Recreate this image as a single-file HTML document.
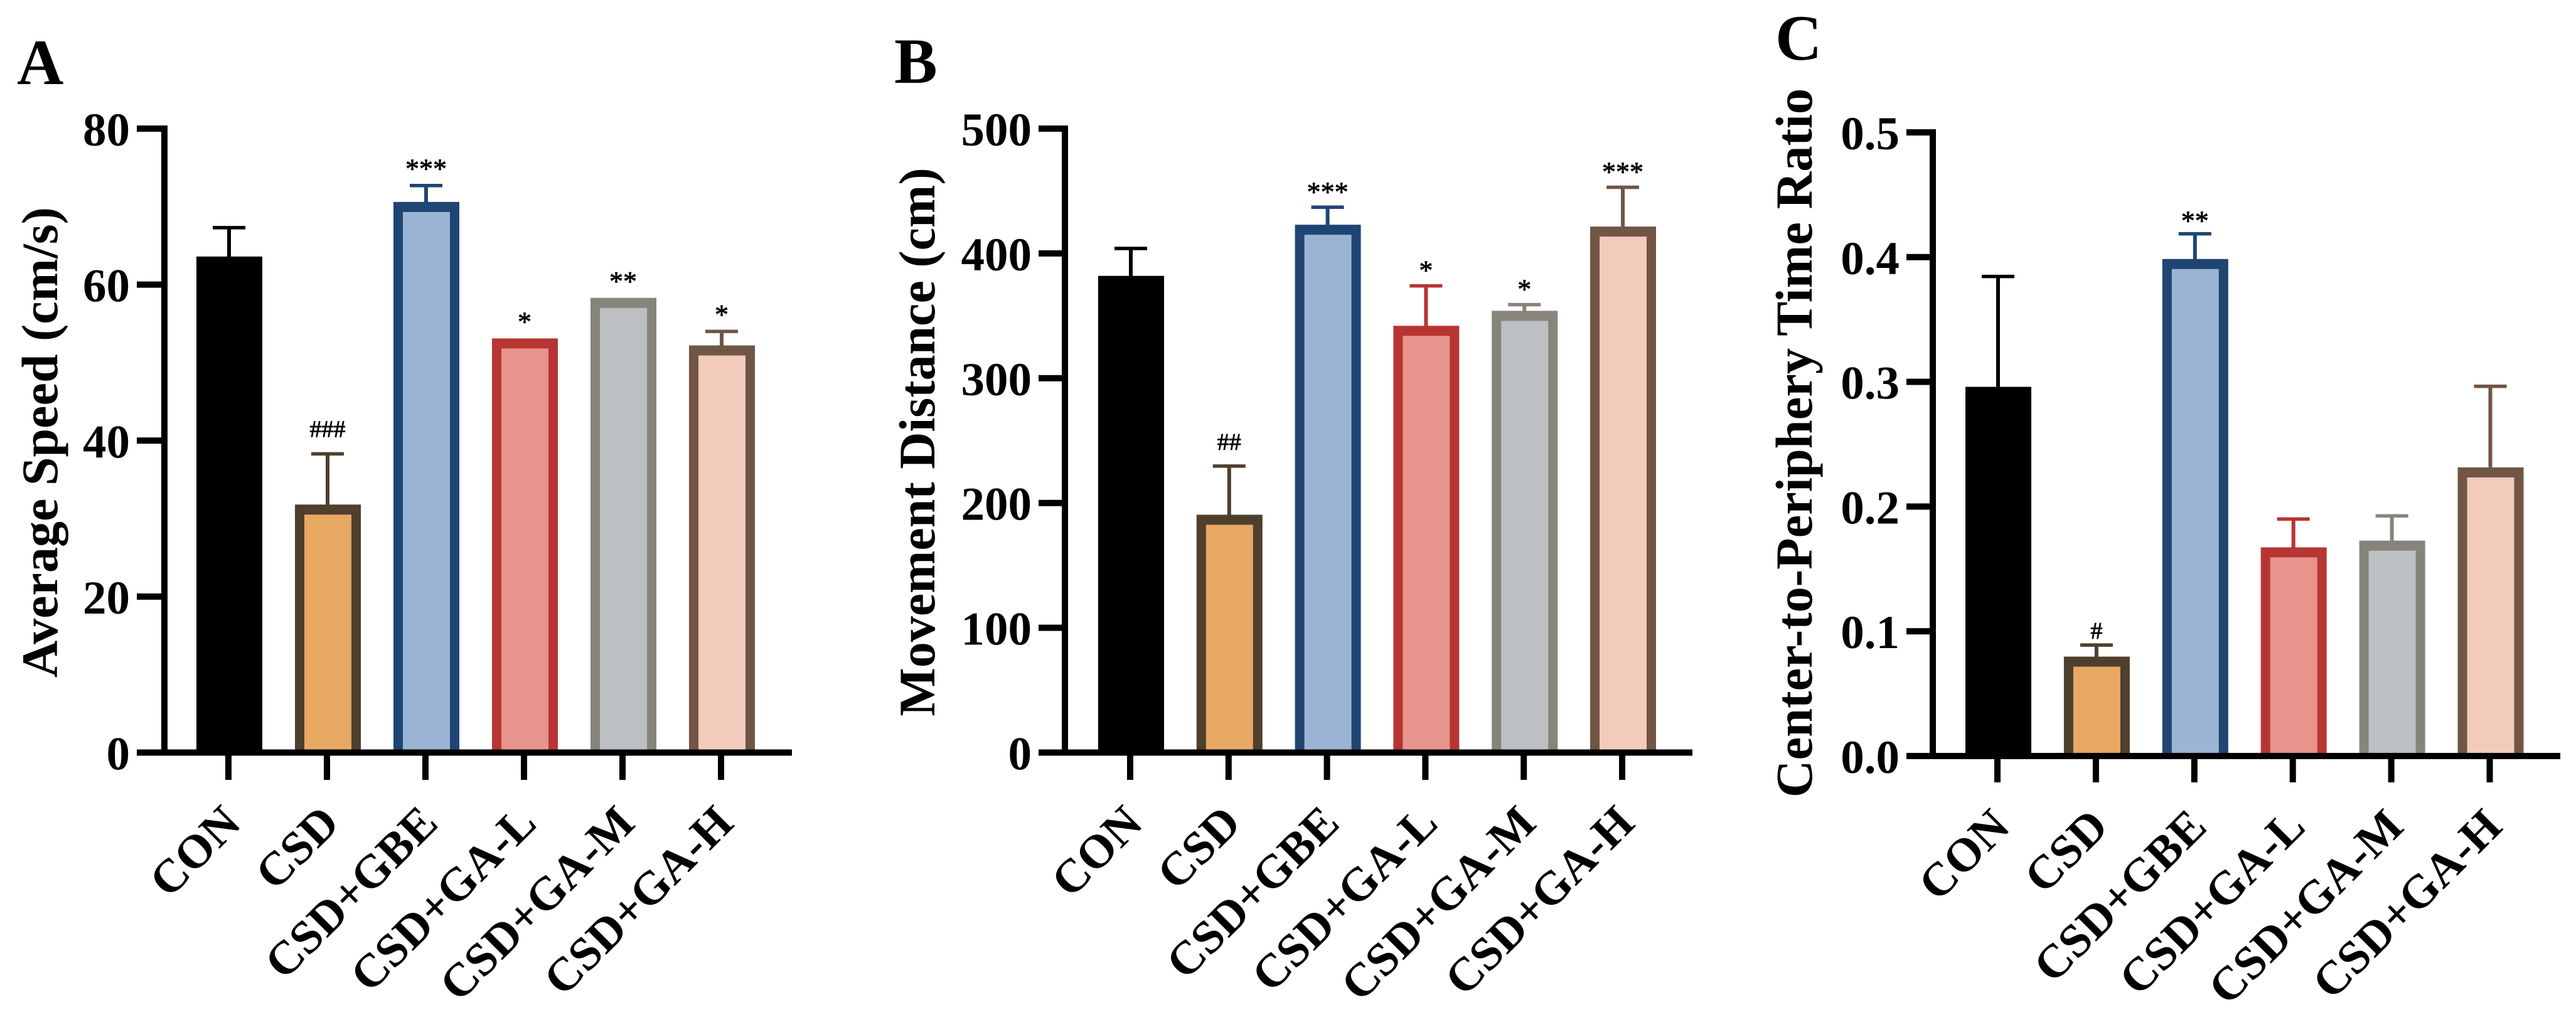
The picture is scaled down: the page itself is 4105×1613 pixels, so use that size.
<!DOCTYPE html>
<html lang="en">
<head>
<meta charset="utf-8">
<title>Behavioural bar charts</title>
<style>
html,body{margin:0;padding:0;background:#fff;width:4105px;height:1613px;overflow:hidden}
svg{display:block}
text{font-family:"Liberation Serif",serif}
</style>
</head>
<body>
<svg id="figure" xmlns="http://www.w3.org/2000/svg" width="4105" height="1613" viewBox="0 0 4105 1613"></svg>
<script>
const categories = ['CON', 'CSD', 'CSD+GBE', 'CSD+GA-L', 'CSD+GA-M', 'CSD+GA-H'];
const speedValues = [63.6, 31.8, 70.6, 53.1, 58.3, 52.2];
const speedErrorTops = [67.3, 38.3, 72.7, null, null, 54];
const speedMarks = ['', '###', '***', '*', '**', '*'];
const speedTicks = [0, 20, 40, 60, 80];
const speedTickLabels = ['0', '20', '40', '60', '80'];
const distanceValues = [382, 190.6, 423, 342, 354, 421.5];
const distanceErrorTops = [404, 229.6, 437, 374, 359, 453];
const distanceMarks = ['', '##', '***', '*', '*', '***'];
const distanceTicks = [0, 100, 200, 300, 400, 500];
const distanceTickLabels = ['0', '100', '200', '300', '400', '500'];
const ratioValues = [0.296, 0.0797, 0.3985, 0.1673, 0.1727, 0.2314];
const ratioErrorTops = [0.3845, 0.089, 0.4187, 0.19, 0.1925, 0.2964];
const ratioMarks = ['', '#', '**', '', '', ''];
const ratioTicks = [0, 0.1, 0.2, 0.3, 0.4, 0.5];
const ratioTickLabels = ['0.0', '0.1', '0.2', '0.3', '0.4', '0.5'];

const fills = ['#000000', '#e6a862', '#9cb4d3', '#e6948c', '#bcc0c2', '#f2cbbd'];
const borders = ['#000000', '#4f3f2d', '#1f4573', '#b73532', '#86847b', '#715545'];

const svg = document.getElementById('figure');
const NS = 'http://www.w3.org/2000/svg';
function make(tag, attrs, parent, text) {
  const el = document.createElementNS(NS, tag);
  for (const k in attrs) el.setAttribute(k, attrs[k]);
  if (text !== undefined) el.textContent = text;
  parent.appendChild(el);
  return el;
}

function drawPanel(p) {
  const g = make('g', {}, svg);
  
  
  const yScale = v => p.yBase - (v - p.ticks[0]) / (p.ticks[p.ticks.length - 1] - p.ticks[0]) * (p.yBase - p.yTop);
  const xScale = i => p.xFirst + i * p.xStep;
  const barW = 105, bx = 15, by = 16;
  const axisBottom = p.yBase + 5;

  const letter = make('text', {x: p.letterX, y: p.letterY, 'font-size': 103, 'font-weight': 'bold', fill: '#000'}, g, p.letter);
  
  

  const title = make('text', {
    transform: 'translate(' + p.titleX + ',' + p.titleY + ') rotate(-90)',
    'text-anchor': 'middle', 'font-size': p.titleSize, 'font-weight': 'bold', fill: '#000'
  }, g, p.title);
  
  

  categories.forEach((cat, i) => {
    const cx = xScale(i);
    const top = yScale(p.values[i]);
    if (p.errors[i] !== null) {
      const errY = yScale(p.errors[i]);
      const stem = make('line', {x1: cx + 1, x2: cx + 1, y1: top + 2, y2: errY, stroke: borders[i], 'stroke-width': 6}, g);
      
      
      const cap = make('line', {x1: cx - 25, x2: cx + 27, y1: errY, y2: errY, stroke: borders[i], 'stroke-width': 5.5}, g);
      
      
    }
    const outer = make('rect', {x: cx - barW / 2 + p.barShift, y: top, width: barW, height: p.yBase - top, fill: borders[i]}, g);
    
    
    const inner = make('rect', {x: cx - barW / 2 + p.barShift + bx, y: top + by, width: barW - 2 * bx, height: Math.max(0, p.yBase - top - by), fill: fills[i]}, g);
    
    

    const mark = p.marks[i];
    if (mark) {
      const anchorY = p.errors[i] !== null ? yScale(p.errors[i]) : top;
      const isHash = mark[0] === '#';
      const my = isHash ? anchorY - p.hashGap + 13 : anchorY - p.starGap + 21;
      const sig = make('text', {x: cx + 1, y: my, 'text-anchor': 'middle', 'font-size': isHash ? 38 : 44, fill: '#000', stroke: '#000', 'stroke-width': 0.8}, g, mark);
      
      
    }

    const tick = make('rect', {x: cx - 5, y: axisBottom - 2, width: 10, height: p.xTickEnd - axisBottom + 2, fill: '#000'}, g);
    
    

    const label = make('text', {
      transform: 'translate(' + (cx + 23) + ',' + (p.yBase + 116) + ') rotate(-45)',
      'text-anchor': 'end', 'font-size': 75, 'font-weight': 'bold', fill: '#000'
    }, g, cat);
    
    
  });

  const yAxis = make('rect', {x: p.axisX - 5, y: yScale(p.ticks[p.ticks.length - 1]) - 5, width: 10, height: axisBottom - yScale(p.ticks[p.ticks.length - 1]) + 5, fill: '#000'}, g);
  
  
  const xAxis = make('rect', {x: p.tickLeft, y: p.yBase - 5, width: p.axisEnd - p.tickLeft, height: 10, fill: '#000'}, g);
  
  

  p.ticks.forEach((t, i) => {
    const y = yScale(t);
    const tk = make('rect', {x: p.tickLeft, y: y - 5, width: p.axisX - p.tickLeft, height: 10, fill: '#000'}, g);
    
    
    const lb = make('text', {x: p.tickLeft - 11, y: y + 27, 'text-anchor': 'end', 'font-size': 75, 'font-weight': 'bold', fill: '#000'}, g, p.tickLabels[i]);
    
    
  });
}

drawPanel({
  name: 'average-speed', letter: 'A', letterX: 27, letterY: 134,
  title: 'Average Speed (cm/s)', titleX: 91, titleY: 705, titleSize: 82,
  values: speedValues, errors: speedErrorTops, marks: speedMarks,
  ticks: speedTicks, tickLabels: speedTickLabels,
  yBase: 1199.5, yTop: 205, xFirst: 364, xStep: 157, barShift: 1.5,
  axisX: 262, tickLeft: 218, axisEnd: 1262, xTickEnd: 1243, hashGap: 40, starGap: 33
});
drawPanel({
  name: 'movement-distance', letter: 'B', letterX: 1425, letterY: 132,
  title: 'Movement Distance (cm)', titleX: 1489, titleY: 704.5, titleSize: 82,
  values: distanceValues, errors: distanceErrorTops, marks: distanceMarks,
  ticks: distanceTicks, tickLabels: distanceTickLabels,
  yBase: 1199.5, yTop: 205, xFirst: 1801, xStep: 156.8, barShift: 1.5,
  axisX: 1697, tickLeft: 1655, axisEnd: 2697, xTickEnd: 1243, hashGap: 39, starGap: 31
});
drawPanel({
  name: 'center-periphery-ratio', letter: 'C', letterX: 2829, letterY: 95,
  title: 'Center-to-Periphery Time Ratio', titleX: 2887, titleY: 706, titleSize: 82.5,
  values: ratioValues, errors: ratioErrorTops, marks: ratioMarks,
  ticks: ratioTicks, tickLabels: ratioTickLabels,
  yBase: 1205, yTop: 211, xFirst: 3183, xStep: 156.9, barShift: 1.5,
  axisX: 3080, tickLeft: 3038, axisEnd: 4080, xTickEnd: 1247, hashGap: 23, starGap: 27
});
</script>
</body>
</html>
